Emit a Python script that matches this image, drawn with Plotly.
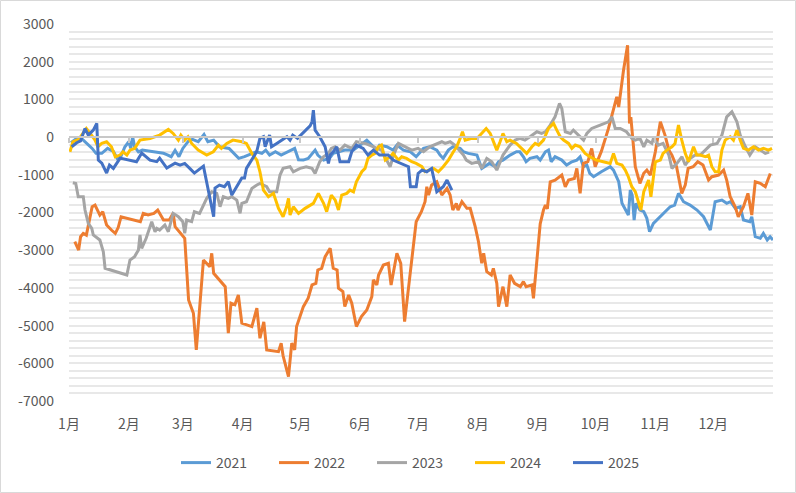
import plotly.graph_objects as go

# Month ticks (day-of-year, common year)
month_days = [0, 31, 59, 90, 120, 151, 181, 212, 243, 273, 304, 334]
month_labels = ["1月", "2月", "3月", "4月", "5月", "6月", "7月", "8月", "9月", "10月", "11月", "12月"]
y_ticks = [-7000, -6000, -5000, -4000, -3000, -2000, -1000, 0, 1000, 2000, 3000]
y_labels = ["-7000", "-6000", "-5000", "-4000", "-3000", "-2000", "-1000", "0", "1000", "2000", "3000"]

# ---- 2021 ----
d2021 = [1, 4, 7, 12, 14, 17, 20, 23, 25, 27, 29, 31, 32, 33, 34, 36, 38, 45, 49, 51, 53, 55, 57, 59, 62, 64, 67, 70, 72, 75, 78, 83, 88, 91, 95, 97, 100, 102, 104, 107, 110, 115, 117, 119, 121.5, 124, 127.6, 129, 132, 135, 137, 143, 147.5, 154.4, 159.6, 161, 164.8, 168, 170, 173.4, 177, 180, 182, 183.8, 187, 190.7, 192.4, 194, 196.7, 199, 202.8, 204.5, 207, 211.5, 214, 216.6, 218, 221, 222.7, 225, 228.7, 232, 233.7, 235.6, 237, 239, 242.6, 244.3, 247, 248.6, 250, 252, 255.5, 258, 260.7, 263.3, 265, 266.7, 268.5, 270, 272, 276, 280.6, 282.3, 285, 286.7, 288.4, 290, 291, 292, 293, 294, 296, 298, 299.6, 301, 303, 305.6, 308, 311.7, 314, 316, 318.6, 322, 325.6, 329, 332.5, 335, 338.5, 341, 343, 345.4, 348, 349.7, 353, 354, 355.8, 358.4, 360, 362, 363.5, 365]
v2021 = [-150, -35, -60, -300, -430, -430, -300, -380, -565, -500, -256, -124, -300, 10, -250, -390, -345, -390, -430, -470, -520, -350, -520, -300, -100, -60, -120, 70, -124, -80, -256, -300, -565, -520, -430, -390, -430, -345, -477, -390, -477, -345, -300, -600, -610, -565, -345, -477, -610, -565, -432, -345, -345, -80, -345, -212, -256, -345, -212, -345, -389, -521, -389, -300, -256, -345, -477, -565, -345, -256, -300, -389, -432, -477, -830, -742, -697, -786, -654, -610, -477, -389, -389, -521, -654, -565, -521, -610, -389, -345, -654, -521, -610, -742, -654, -610, -521, -786, -742, -963, -1051, -919, -786, -875, -1184, -1757, -1935, -2067, -1405, -1537, -2200, -1757, -1935, -1979, -2155, -2510, -2288, -2155, -2022, -1847, -1802, -1492, -1714, -1802, -1935, -2112, -2465, -1714, -1670, -1757, -1714, -1890, -1847, -2200, -2244, -2112, -2642, -2685, -2553, -2730, -2642, -2730]

# ---- 2022 ----
d2022 = [3, 5, 6, 7.4, 9, 10, 12, 13.5, 16, 17.5, 19.5, 22, 24, 25.5, 27, 37, 38.5, 41, 44, 46, 49, 52, 54, 55, 57.6, 60, 62, 64.5, 66, 68, 69.7, 73, 74, 75, 78, 81, 82.6, 84, 86, 87.8, 89.6, 94.8, 97.4, 99, 101, 102.5, 108.6, 110, 111, 113.8, 115.5, 117, 118, 121.5, 124, 126, 128, 129, 131, 132.8, 135.4, 137, 139, 139.7, 142, 143, 145, 146.6, 149, 151.6, 154.4, 157, 157.8, 159.6, 160.5, 163, 165.6, 167, 170, 172, 174, 177.7, 180, 182.7, 184.6, 185.5, 186.4, 188, 190.7, 193.3, 196, 197.6, 199, 200.8, 201.7, 203.7, 206.3, 208, 210.6, 212.3, 214, 215, 216.6, 219, 220, 221.8, 222.7, 225, 227, 228.7, 231, 234, 235.6, 237, 240, 240.8, 242.6, 244.3, 246, 247, 248, 249.5, 252, 255.5, 257.3, 259, 262, 263.3, 265, 266.7, 269, 271, 272.8, 276, 279.7, 282.3, 284, 285, 285.8, 287.5, 289.6, 290.6, 291.3, 292.7, 293.6, 296, 298, 299.6, 301.4, 304, 306.6, 309, 311, 312.6, 315, 317.7, 319.5, 321, 323.6, 326, 328.7, 331.6, 333.3, 336.8, 339.4, 341, 342.8, 345.4, 347, 349.7, 352, 354, 355.8, 358.4, 361, 363.6]
v2022 = [-2774, -2995, -2642, -2553, -2600, -2332, -1847, -1802, -2067, -1980, -2332, -2465, -2553, -2400, -2112, -2244, -2022, -2067, -2022, -1935, -2200, -2200, -2022, -2377, -2553, -2685, -4320, -4672, -5645, -4232, -3260, -3437, -3083, -3612, -3790, -3967, -5202, -4407, -4450, -4187, -4937, -5026, -4540, -5335, -4900, -5645, -5690, -5467, -5800, -6350, -5467, -5645, -5026, -4497, -4275, -3922, -3880, -3525, -3480, -3172, -2950, -3480, -3525, -4010, -4100, -4497, -4187, -4407, -5026, -4760, -4585, -4232, -3790, -3922, -3660, -3392, -3348, -3922, -3083, -3348, -4893, -3172, -2244, -1979, -1714, -1316, -1537, -1272, -1184, -1537, -1360, -1537, -1935, -1757, -1935, -1714, -1890, -1890, -2377, -2774, -3348, -3083, -3570, -3660, -3480, -3878, -4497, -3967, -4497, -3657, -3878, -3967, -3834, -3967, -3922, -4275, -3300, -2300, -1935, -1800, -1900, -1184, -1140, -1007, -1316, -1140, -1100, -830, -1492, -697, -650, -300, -786, -380, 230, 715, 1068, 800, 1113, 1775, 2438, 363, 530, -168, -786, -1227, -960, -875, -1007, -389, 406, 53, -345, -477, -786, -1492, -1272, -830, -786, -654, -742, -1140, -1051, -1007, -875, -1140, -1582, -1847, -2112, -1847, -1492, -2067, -1184, -1227, -1316, -963]

# ---- 2023 ----
d2023 = [2, 3.5, 4.8, 7.4, 8.3, 10, 11.8, 12.6, 16, 17.8, 18.7, 30, 31.6, 34, 36, 36.8, 37.7, 40, 42.9, 44.6, 45.5, 47, 49.7, 51.5, 54, 56.7, 59, 60, 61, 63.6, 65, 67.7, 71.4, 74, 76.6, 78.3, 80, 82.6, 84.4, 87, 88.7, 89.6, 92, 94.8, 97.4, 99, 102.5, 104, 107.7, 109.4, 111, 114.6, 116.3, 119.8, 123, 126, 127.6, 130, 131.9, 134.5, 136, 138, 140.5, 143, 146.6, 149, 153.5, 157.8, 162, 166.5, 168.3, 170.8, 174.3, 177.7, 181, 183.8, 187, 190.7, 193.3, 195, 197.6, 200, 202.8, 204.5, 206, 208.8, 212.3, 214, 216.6, 219.2, 221.8, 225, 228.7, 231.3, 233.8, 236.4, 239, 242.6, 245, 247, 249.5, 252, 254.3, 255.5, 257.3, 260, 261.5, 264, 266.8, 268.5, 271, 275.4, 279.7, 281.5, 283.2, 285.8, 289, 291.8, 293.6, 296, 298, 299.6, 302.2, 303, 305.6, 308, 311, 312.6, 315.2, 317.8, 319.5, 322, 324.7, 327.3, 330, 332.5, 336, 338.5, 341, 343.7, 346.3, 348, 350.7, 353, 355.8, 358.4, 361, 363]
v2023 = [-1210, -1230, -1582, -1582, -1935, -2288, -2420, -2597, -2730, -3040, -3480, -3657, -3260, -3170, -2995, -2597, -2950, -2685, -2244, -2510, -2420, -2465, -2332, -2510, -2022, -2110, -2244, -2553, -2200, -2244, -1979, -2022, -1625, -1450, -1492, -1847, -1582, -1625, -1582, -1670, -2022, -1757, -1714, -1360, -1272, -1227, -1316, -1450, -1450, -1007, -830, -786, -919, -830, -786, -830, -963, -654, -521, -432, -300, -256, -345, -212, -300, -124, -168, -256, -345, -786, -477, -168, -256, -345, -300, -389, -256, -168, -124, -168, -124, -212, -389, -477, -610, -697, -654, -830, -565, -654, -875, -477, -212, -80, -35, -80, 9, 141, 100, 141, 318, 538, 893, 760, 141, 97, 185, 53, -80, 97, 230, 318, 406, 538, 230, 230, 141, -35, -80, -35, -256, -80, -168, -35, -212, -168, -477, -830, -697, -521, -742, -565, -477, -477, -345, -212, -168, 53, 538, 671, 406, 53, -256, -477, -256, -345, -432, -400]

# ---- 2024 ----
d2024 = [0.5, 2, 5, 9, 11, 13.5, 15, 17, 19.5, 22, 24, 26.5, 28, 30, 31.6, 34, 36.8, 42, 47, 51.5, 54, 56.7, 58, 60, 61.7, 63.6, 67, 71.4, 74.8, 77.5, 79, 81.8, 85, 89.6, 92, 94.8, 97.4, 99, 100.8, 103.4, 106, 108.6, 111, 112.8, 113.8, 114.6, 116.3, 119, 122.4, 126.7, 129.3, 132, 133.6, 136, 138, 139.7, 141.4, 144, 145.7, 147.5, 149, 151, 151.8, 153.5, 155, 157, 158.7, 160.4, 162, 164, 166.5, 168, 170.8, 172.5, 175, 177.7, 180, 183, 184.6, 189, 191.5, 194, 196.7, 199.3, 201, 202.8, 204, 205.4, 208.9, 211.5, 214, 216.3, 218.4, 220, 221.8, 223.5, 225, 227, 228.7, 232, 235.6, 237.3, 240, 241.7, 243.5, 246, 248.6, 251.2, 252.9, 254.7, 256.4, 259, 260.7, 262.5, 265, 267.6, 270, 273.5, 277, 280.6, 282.3, 284, 286.7, 288.4, 290, 291.8, 293.6, 295.3, 296.5, 298, 299.6, 300.5, 301.7, 303, 304, 306.6, 308, 310, 312.6, 314.2, 316, 317.7, 319.5, 321.2, 323.8, 325.5, 327.3, 329.9, 331.6, 333.3, 335, 336.8, 338.5, 340.2, 342.8, 344.5, 346.3, 348, 349.7, 352.3, 354.9, 357.5, 360, 362.7, 364.5]
v2024 = [-389, -124, -60, 230, 97, -80, -256, -168, -124, -256, -521, -477, -389, -477, -345, -300, -80, -35, 53, 204, 97, -80, 53, -80, 9, -168, -345, -477, -389, -212, -300, -168, -80, -124, -168, -432, -610, -919, -1405, -1582, -1492, -1890, -2112, -1847, -1625, -2067, -1847, -2022, -1890, -1757, -1492, -1757, -1979, -1537, -1670, -1935, -1537, -1492, -1405, -1450, -1184, -1007, -919, -830, -565, -477, -432, -256, -212, -610, -521, -432, -610, -521, -565, -654, -697, -786, -919, -830, -919, -786, -610, -389, -256, -35, 141, -80, -35, -35, 97, 230, 97, -124, -345, -124, 97, -124, -80, -168, -345, -432, -256, -168, -212, -80, 230, 363, 185, 9, -80, -168, -300, -212, -256, -432, -521, -610, -654, -697, -432, -697, -742, -875, -1051, -1316, -1450, -1714, -1935, -1450, -1272, -1140, -1582, -1051, -654, -610, -432, -345, -256, -168, 318, -80, -432, -654, -256, -477, -477, -521, -477, -786, -919, -919, -345, -80, 9, -80, 185, -80, -300, -345, -256, -345, -300, -345, -300]

# ---- 2025 ----
d2025 = [1.4, 4, 6, 8.3, 10, 12.6, 14.4, 15.2, 17, 19.5, 21, 23, 26.5, 35, 37.7, 42, 45.5, 47, 50.7, 55, 57.6, 60, 62.6, 65, 69.7, 72, 75, 75.7, 78, 80.6, 82.6, 84.4, 87, 89.6, 91, 92, 97.3, 99, 100.8, 101.7, 104, 105, 107.7, 113, 114.6, 116, 118.5, 123, 125, 126, 126.7, 127.6, 130, 132.8, 134.5, 135.4, 137, 138.8, 140.5, 145, 146.6, 149, 152.5, 155, 157.8, 161, 165.5, 168, 173.4, 176, 177, 180, 181, 183, 185.5, 188, 190.7, 194, 196, 198.5]
v2025 = [-257, -150, -100, 230, 53, 185, 363, -610, -690, -955, -742, -830, -557, -654, -424, -610, -650, -557, -822, -690, -742, -697, -830, -955, -770, -1317, -2112, -1350, -1272, -1316, -1184, -1537, -1316, -1087, -1087, -830, -389, -35, 9, -256, 53, -256, -168, 9, -80, 53, -35, 185, 300, 406, 715, 185, 9, -256, -698, -477, -389, -256, -654, -654, -389, -212, -300, -477, -345, -477, -477, -610, -742, -786, -1316, -1316, -963, -875, -919, -830, -1450, -1316, -1140, -1405]

series = [
    ("2021", d2021, v2021, "#5B9BD5"),
    ("2022", d2022, v2022, "#ED7D31"),
    ("2023", d2023, v2023, "#A5A5A5"),
    ("2024", d2024, v2024, "#FFC000"),
    ("2025", d2025, v2025, "#4472C4"),
]

FONT = "Noto Sans CJK SC, DejaVu Sans, sans-serif"
W, H = 796, 493
ML, MR, MT, MB = 69, 23, 24, 92

fig = go.Figure()
for name, d, v, c in series:
    fig.add_trace(go.Scatter(x=d, y=v, mode="lines", name=name,
                             line=dict(color=c, width=3)))

# invisible trace to activate the zero-crossing category axis
fig.add_trace(go.Scatter(x=[0, 365], y=[0, 0], xaxis="x2", mode="lines",
                         line=dict(width=0), showlegend=False, hoverinfo="skip"))

fig.update_layout(
    width=W, height=H,
    margin=dict(l=ML, r=MR, t=MT, b=MB),
    paper_bgcolor="white", plot_bgcolor="white",
    font=dict(family=FONT, size=14, color="#595959"),
    showlegend=True,
    legend=dict(orientation="h", x=0.5, xanchor="center",
                y=-(463 - (H - MB)) / (H - MT - MB), yanchor="middle",
                font=dict(family=FONT, size=14, color="#595959"),
                entrywidth=53, entrywidthmode="pixels", itemwidth=30),
    xaxis=dict(range=[0, 365], tickmode="array", tickvals=month_days,
               ticktext=month_labels, showgrid=False, zeroline=False,
               showline=False, ticks="", ticklabelstandoff=13,
               tickfont=dict(family=FONT, size=14, color="#595959")),
    xaxis2=dict(overlaying="x", matches="x", anchor="free", position=0.7,
                showline=True, linecolor="#C8C8C8", linewidth=1.5,
                ticks="outside", ticklen=5, tickcolor="#C8C8C8", tickwidth=1.5,
                tickmode="array", tickvals=month_days, showticklabels=False,
                showgrid=False, zeroline=False),
    yaxis=dict(range=[-7000, 3000], tickmode="array", tickvals=y_ticks,
               ticktext=y_labels,
               showgrid=True, gridcolor="#E8E8E8", gridwidth=1.5,
               zeroline=False, showline=False, ticks="", ticklabelstandoff=14,
               tickfont=dict(family=FONT, size=14, color="#595959"),
               minor=dict(dtick=200, tick0=0, showgrid=True, gridcolor="#E8E8E8", gridwidth=1.5)),
)

pw = W - ML - MR
ph = H - MT - MB
fig.add_shape(type="rect", xref="paper", yref="paper",
              x0=-(ML - 0.5) / pw, x1=1 + (MR - 0.5) / pw,
              y0=-(MB - 0.5) / ph, y1=1 + (MT - 0.5) / ph,
              line=dict(color="#D9D9D9", width=1), layer="below")

fig.write_html("out.html", config={"displayModeBar": False},
               post_script="document.body.style.margin='0';")
